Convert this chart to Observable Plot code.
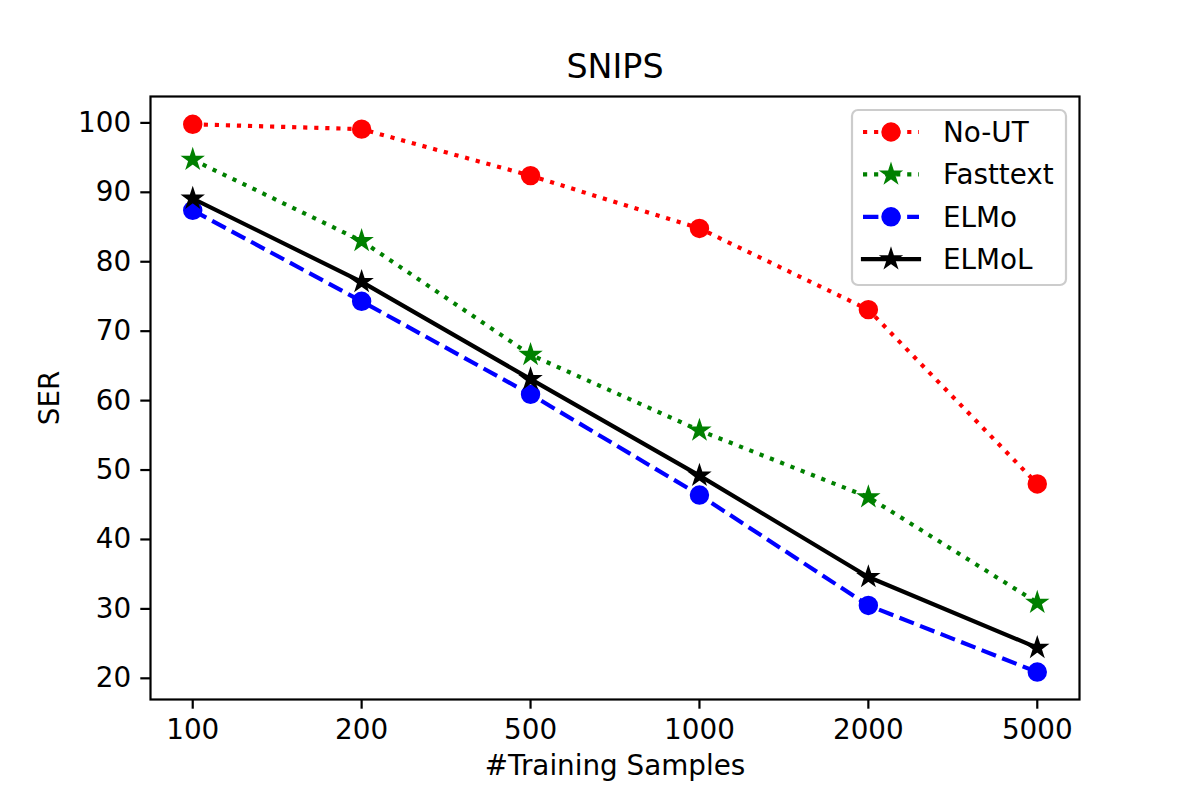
<!DOCTYPE html>
<html>
<head>
<meta charset="utf-8">
<script src="https://cdn.jsdelivr.net/npm/d3@7"></script>
<script src="https://cdn.jsdelivr.net/npm/@observablehq/plot@0.6"></script>
<style>
  html, body { margin: 0; padding: 0; background: #fff; }
  #chart svg { display: block; }
</style>
</head>
<body>
<div id="chart"></div>
<script>
// ---- data ----
const sizes = ["100", "200", "500", "1000", "2000", "5000"];
const seriesNames = ["No-UT", "Fasttext", "ELMo", "ELMoL"];
const noUT     = [99.8, 99.1, 92.4, 84.8, 73.1, 48.0];
const fasttext = [94.7, 83.0, 66.6, 55.7, 46.1, 30.9];
const elmo     = [87.4, 74.3, 60.9, 46.4, 30.5, 20.9];
const elmoL    = [89.1, 77.1, 63.1, 49.2, 34.6, 24.4];
const yTicks = [20, 30, 40, 50, 60, 70, 80, 90, 100];
const titleText = "SNIPS";
const xLabel = "#Training Samples";
const yLabel = "SER";

// ---- styles ----
const LW = 4.17;      // 1.5pt @200dpi
const MEW = 2.78;     // 1pt
const MR = 8.33;      // marker radius (3pt)
const STAR_AREA = MR * MR / 0.8908130915292852;
const seriesValues = [noUT, fasttext, elmo, elmoL];
const seriesStyle = [
  {color: "#ff0000", dash: "4.17,6.88", symbol: "circle"},
  {color: "#008000", dash: "4.17,6.88", symbol: "star"},
  {color: "#0000ff", dash: "15.4,6.67", symbol: "circle"},
  {color: "#000000", dash: null,        symbol: "star"}
];

const tables = seriesNames.map((name, i) =>
  sizes.map((s, j) => ({series: name, size: s, value: seriesValues[i][j]}))
);

const marks = [];
tables.forEach((data, i) => {
  const st = seriesStyle[i];
  marks.push(Plot.line(data, {
    x: "size", y: "value", stroke: st.color, strokeWidth: LW,
    strokeDasharray: st.dash || undefined,
    strokeLinecap: st.dash ? "butt" : "square", strokeLinejoin: "round"
  }));
  marks.push(Plot.dot(data, {
    x: "size", y: "value", symbol: st.symbol,
    r: st.symbol === "circle" ? MR : Math.sqrt(STAR_AREA / Math.PI),
    fill: st.color, stroke: st.color, strokeWidth: MEW, strokeLinejoin: "miter"
  }));
});

const plot = Plot.plot({
  width: 1200,
  height: 800,
  marginLeft: 150,
  marginRight: 121,
  marginTop: 96,
  marginBottom: 101,
  style: {fontFamily: "DejaVu Sans", fontSize: "27.8px", background: "white", color: "black"},
  x: {type: "point", domain: sizes, padding: 0.25, align: 0.5, round: false},
  y: {type: "linear", domain: [16.95, 103.8]},
  marks: [
    ...marks,
    Plot.frame({stroke: "black", strokeWidth: 2.2}),
    Plot.axisX({tickSize: 9.7, tickPadding: 9.7, strokeWidth: 2.2, label: null, fontSize: 27.8}),
    Plot.axisY(yTicks, {tickSize: 9.7, tickPadding: 9.7, strokeWidth: 2.2, label: null, fontSize: 27.8}),
    Plot.text([titleText], {frameAnchor: "top", dy: -29, text: d => d, fontSize: 33.3, lineAnchor: "middle", textAnchor: "middle"}),
    Plot.text([xLabel], {frameAnchor: "bottom", dy: 67, text: d => d, fontSize: 27.8, lineAnchor: "middle", textAnchor: "middle"}),
    Plot.text([yLabel], {frameAnchor: "left", dx: -100, text: d => d, fontSize: 27.8, rotate: -90, lineAnchor: "middle", textAnchor: "middle"})
  ]
});

document.getElementById("chart").appendChild(plot);

// ---- legend (inside the axes, upper right) ----
const svg = d3.select(plot);
const lg = svg.append("g")
  .attr("font-family", "DejaVu Sans")
  .attr("font-size", 27.8)
  .attr("text-anchor", "start");
lg.append("rect")
  .attr("x", 852).attr("y", 110).attr("width", 214).attr("height", 175)
  .attr("rx", 6).attr("ry", 6)
  .attr("fill", "white").attr("fill-opacity", 0.8)
  .attr("stroke", "#cccccc").attr("stroke-width", 2.2);
seriesNames.forEach((name, i) => {
  const st = seriesStyle[i];
  const y = 132 + i * 42.4;
  lg.append("line")
    .attr("x1", 863).attr("x2", 919).attr("y1", y).attr("y2", y)
    .attr("stroke", st.color).attr("stroke-width", LW)
    .attr("stroke-dasharray", st.dash)
    .attr("stroke-linecap", st.dash ? "butt" : "square");
  const sym = st.symbol === "circle"
    ? d3.symbol(d3.symbolCircle, Math.PI * MR * MR)
    : d3.symbol(d3.symbolStar, STAR_AREA);
  lg.append("path")
    .attr("d", sym())
    .attr("transform", `translate(891,${y})`)
    .attr("fill", st.color).attr("stroke", st.color)
    .attr("stroke-width", MEW).attr("stroke-linejoin", "miter");
  lg.append("text")
    .attr("x", 943).attr("y", y).attr("dy", "0.35em")
    .attr("text-anchor", "start")
    .attr("fill", "black")
    .text(name);
});
</script>
</body>
</html>
